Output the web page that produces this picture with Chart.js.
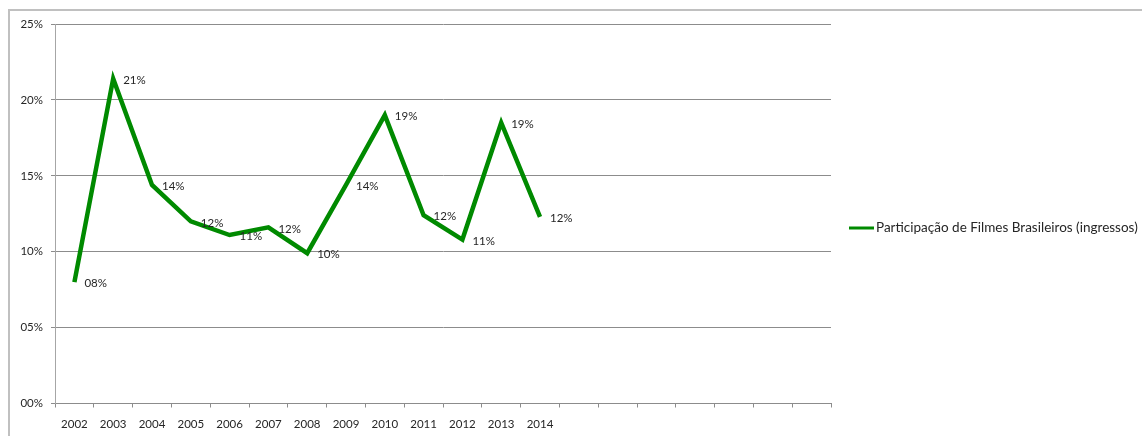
<!DOCTYPE html>
<html>
<head>
<meta charset="utf-8">
<script src="https://cdn.jsdelivr.net/npm/chart.js@4"></script>
<style>
  html, body { margin: 0; padding: 0; background: #fff; overflow: hidden; }
  #frame {
    position: absolute; left: 8px; top: 9px; width: 1200px; height: 500px;
    border-top: 2px solid #c0c0c0; border-left: 2px solid #c0c0c0;
  }
  #wrap { position: absolute; left: 0; top: 0; width: 1142px; height: 436px; }
</style>
</head>
<body>
<div id="frame"></div>
<div id="wrap"><canvas id="chart"></canvas></div>
<script>
const years = ["2002", "2003", "2004", "2005", "2006", "2007", "2008", "2009", "2010", "2011", "2012", "2013", "2014", "", "", "", "", "", "", ""];
const share = [8.0, 21.4, 14.4, 12.0, 11.1, 11.6, 9.9, 14.4, 19.0, 12.4, 10.8, 18.5, 12.3];
const seriesName = "Participação de Filmes Brasileiros (ingressos)";

const green = "#008a00";
const textColor = "#262626";
const fontFamily = "Lato, 'Liberation Sans', sans-serif";

function pct(v) {
  return String(Math.round(v)).padStart(2, "0") + "%";
}

// value labels to the right of each point
const pointLabels = {
  id: "pointLabels",
  afterDatasetsDraw(chart) {
    const ctx = chart.ctx;
    const meta = chart.getDatasetMeta(0);
    ctx.save();
    ctx.font = "11.5px " + fontFamily;
    ctx.fillStyle = textColor;
    ctx.textAlign = "left";
    ctx.textBaseline = "middle";
    meta.data.forEach((pt, i) => {
      const v = chart.data.datasets[0].data[i];
      if (v == null) return;
      ctx.fillText(pct(v), pt.x + 10, pt.y + 1.5);
    });
    ctx.restore();
  }
};

// legend in the right margin
const sideLegend = {
  id: "sideLegend",
  afterDraw(chart) {
    const ctx = chart.ctx;
    const ds = chart.data.datasets[0];
    const x = chart.chartArea.right + 18;
    const y = 228;
    ctx.save();
    ctx.strokeStyle = ds.borderColor;
    ctx.lineWidth = 3;
    ctx.beginPath();
    ctx.moveTo(x, y);
    ctx.lineTo(x + 25, y);
    ctx.stroke();
    ctx.font = "13.5px " + fontFamily;
    ctx.fillStyle = textColor;
    ctx.textBaseline = "middle";
    ctx.fillText(ds.label, x + 27, y);
    ctx.restore();
  }
};

new Chart(document.getElementById("chart"), {
  type: "line",
  data: {
    labels: years,
    datasets: [{
      label: seriesName,
      data: share,
      borderColor: green,
      backgroundColor: green,
      borderWidth: 4.5,
      borderJoinStyle: "miter",
      borderCapStyle: "butt",
      pointRadius: 0,
      tension: 0,
      fill: false
    }]
  },
  options: {
    responsive: true,
    maintainAspectRatio: false,
    animation: false,
    events: [],
    layout: { padding: { top: 24, right: 311, bottom: 0, left: 0 } },
    plugins: { legend: { display: false }, tooltip: { enabled: false } },
    scales: {
      x: {
        offset: true,
        grid: { offset: true, drawOnChartArea: false, drawTicks: true, tickLength: 4, color: "#8c8c8c" },
        border: { color: "#8c8c8c" },
        ticks: { color: textColor, font: { family: fontFamily, size: 11.5 }, padding: 10, maxRotation: 0, autoSkip: false },
        afterFit: s => { s.height = 32.5; }
      },
      y: {
        min: 0,
        max: 25,
        grid: { color: "#8c8c8c", tickLength: 4 },
        border: { color: "#a6a6a6" },
        ticks: {
          stepSize: 5,
          color: textColor,
          font: { family: fontFamily, size: 11.5 },
          padding: 8,
          callback: v => pct(v)
        },
        afterFit: s => { s.width = 55; }
      }
    }
  },
  plugins: [pointLabels, sideLegend]
});
</script>
</body>
</html>
